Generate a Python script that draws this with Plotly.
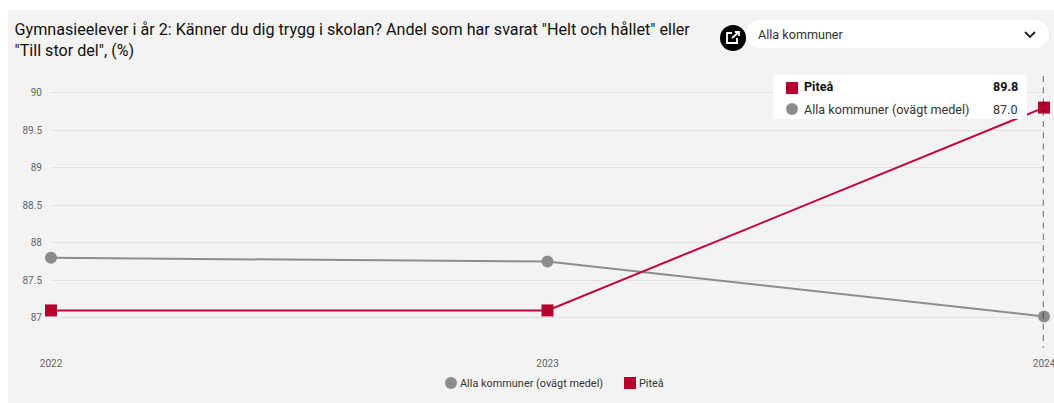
import plotly.graph_objects as go

years = [2022, 2023, 2024]
alla_values = [87.8, 87.75, 87.02]
pitea_values = [87.1, 87.1, 89.8]
y_ticks = [87, 87.5, 88, 88.5, 89, 89.5, 90]
y_tick_labels = ["87", "87.5", "88", "88.5", "89", "89.5", "90"]
alla_name = "Alla kommuner (ovägt medel)"
pitea_name = "Piteå"
title_text = 'Gymnasieelever i år 2: Känner du dig trygg i skolan? Andel som har svarat "Helt och hållet" eller<br>"Till stor del", (%)'
dropdown_text = "Alla kommuner"

W, H = 1074, 403
ML, MR, MT, MB = 51, 30, 76, 55
PW, PH = W - ML - MR, H - MT - MB
FONT = "Roboto, sans-serif"
GRAY, RED, RED_LINE = "#8c8c8c", "#b5002e", "#c0033a"


def px(x):
    return (x - ML) / PW


def py(y):
    return 1 - (y - MT) / PH


def rect(x0, y0, x1, y1, fill, line=None, layer="below"):
    return dict(type="rect", xref="paper", yref="paper", x0=px(x0), x1=px(x1), y0=py(y0), y1=py(y1),
                fillcolor=fill, line=dict(color=line or fill, width=1 if line else 0), layer=layer)


def circle(cx, cy, r, fill):
    return dict(type="circle", xref="paper", yref="paper", x0=px(cx - r), x1=px(cx + r), y0=py(cy - r), y1=py(cy + r),
                fillcolor=fill, line=dict(width=0), layer="above")


def path(points, color, width=2, fill=None, close=False):
    d = "M " + " L ".join(f"{px(a)},{py(b)}" for a, b in points) + (" Z" if close else "")
    return dict(type="path", xref="paper", yref="paper", path=d, line=dict(color=color, width=width),
                fillcolor=fill, layer="above")


def label(x, y, text, size, color="#333333", anchor="left"):
    return dict(xref="paper", yref="paper", x=px(x), y=py(y), text=text, showarrow=False, xanchor=anchor,
                yanchor="middle", font=dict(family=FONT, size=size, color=color),
                borderpad=0, borderwidth=0)


def pill(x0, y0, x1, y1):
    r = (y1 - y0) / 2
    k = r * 0.45
    d = (f"M {px(x0 + r)},{py(y0)} L {px(x1 - r)},{py(y0)} "
         f"C {px(x1 - k)},{py(y0)} {px(x1)},{py(y0 + k)} {px(x1)},{py(y0 + r)} "
         f"C {px(x1)},{py(y1 - k)} {px(x1 - k)},{py(y1)} {px(x1 - r)},{py(y1)} "
         f"L {px(x0 + r)},{py(y1)} "
         f"C {px(x0 + k)},{py(y1)} {px(x0)},{py(y1 - k)} {px(x0)},{py(y0 + r)} "
         f"C {px(x0)},{py(y0 + k)} {px(x0 + k)},{py(y0)} {px(x0 + r)},{py(y0)} Z")
    return dict(type="path", xref="paper", yref="paper", path=d, fillcolor="white",
                line=dict(color="#ececec", width=1), layer="above")


fig = go.Figure()
fig.add_trace(go.Scatter(x=years, y=alla_values, mode="lines+markers", name=alla_name, cliponaxis=False,
                         line=dict(color=GRAY, width=2), marker=dict(color=GRAY, size=12, symbol="circle"),
                         showlegend=False))
fig.add_trace(go.Scatter(x=years, y=pitea_values, mode="lines+markers", name=pitea_name, cliponaxis=False,
                         line=dict(color=RED_LINE, width=2), marker=dict(color=RED, size=12, symbol="square"),
                         showlegend=False))

shapes = [
    rect(8, 10, W + 2, H + 2, "#f3f3f3"),
    dict(type="line", xref="x", yref="paper", x0=years[-1], x1=years[-1], y0=1, y1=0,
         line=dict(color="rgba(0,0,0,0.45)", width=2.5, dash="6px,5.26px"), layer="above"),
    rect(773, 75, 1027, 119, "white", layer="above"),
    rect(786, 82, 798, 94, RED, layer="above"),
    circle(792, 109, 6, GRAY),
    pill(745, 19, 1050, 49),
    path([(1025, 32), (1030, 37), (1035, 32)], "#222222", 1.8),
    circle(733, 38, 13, "black"),
    path([(732, 33), (727, 33), (727, 43), (737, 43), (737, 38)], "white", 1.8),
    path([(732, 38), (739, 32)], "white", 1.8),
    path([(735, 32), (739, 32), (739, 36)], "white", 1.8),
    circle(451, 383, 6, GRAY),
    rect(624, 377, 636, 389, RED, layer="above"),
]

annotations = [
    label(758, 34, dropdown_text, 12.6),
    label(804, 87, f"<b>{pitea_name}</b>", 12.6, "#111111"),
    label(1018, 87, f"<b>{pitea_values[-1]:.1f}</b>", 12.6, "#111111", "right"),
    label(804, 109, alla_name, 12.6),
    label(1018, 109, f"{alla_values[-1]:.1f}", 12.6, "#333333", "right"),
    label(460, 383, alla_name, 10.9),
    label(639, 383, pitea_name, 10.9),
]

fig.update_layout(
    width=W, height=H, autosize=False,
    margin=dict(l=ML, r=MR, t=MT, b=MB, pad=0, autoexpand=False),
    paper_bgcolor="white", plot_bgcolor="rgba(0,0,0,0)",
    font=dict(family=FONT, size=12, color="#333333"),
    showlegend=False,
    title=dict(text=title_text, x=14.5 / W, xanchor="left", xref="container", y=1 - 35 / H, yanchor="top",
               font=dict(family=FONT, size=16.15, color="#111111")),
    xaxis=dict(range=[years[0], years[-1]], tickmode="array", tickvals=years, ticktext=[str(y) for y in years],
               showgrid=False, zeroline=False, showline=False, ticks="", ticklabelstandoff=8,
               tickfont=dict(family=FONT, size=10, color="#666666")),
    yaxis=dict(range=[86.6, 90.22], tickmode="array", tickvals=y_ticks, ticktext=y_tick_labels,
               showgrid=True, gridcolor="#e2e2e2", gridwidth=1, zeroline=False, showline=False, ticks="",
               ticklabelstandoff=8, tickfont=dict(family=FONT, size=10, color="#666666")),
    shapes=shapes, annotations=annotations, hovermode=False,
)

fig.write_html("out.html", config=dict(displayModeBar=False),
               post_script="document.body.style.margin='0';document.body.style.overflow='hidden';")
